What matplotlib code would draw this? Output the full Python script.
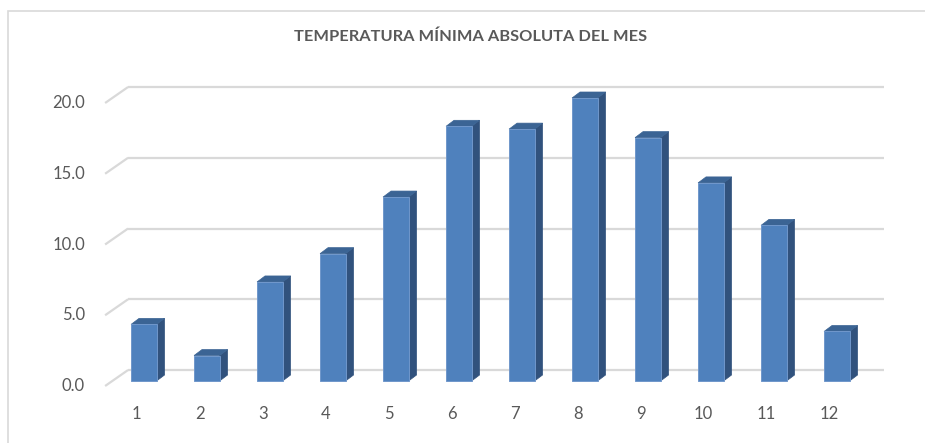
import matplotlib
matplotlib.use('Agg')
import matplotlib.pyplot as plt
from matplotlib.patches import Polygon, Rectangle

# ---- data ----
months = ['1', '2', '3', '4', '5', '6', '7', '8', '9', '10', '11', '12']
values = [4.0, 1.8, 7.0, 9.0, 13.0, 18.0, 17.8, 20.0, 17.2, 14.0, 11.0, 3.5]
yticks = [0, 5, 10, 15, 20]
ytick_labels = ['0.0', '5.0', '10.0', '15.0', '20.0']
title = 'TEMPERATURA MÍNIMA ABSOLUTA DEL MES'

# ---- layout ----
W, H, DPI = 925, 443, 100
fig = plt.figure(figsize=(W / DPI, H / DPI), dpi=DPI)

x1px, xs = 143.8, 63.0      # pixel of category 1, pixels per category
y0px, ys = 381.0, 14.15     # pixel of value 0 (bar plane), pixels per unit
xlim = (0.1, 13.2)
ylim = (-1.2, 21.5)
left = x1px + (xlim[0] - 1) * xs
right = x1px + (xlim[1] - 1) * xs
top = y0px - ylim[1] * ys
bottom = y0px - ylim[0] * ys
ax = fig.add_axes([left / W, 1 - bottom / H, (right - left) / W, (bottom - top) / H])
ax.set_xlim(*xlim)
ax.set_ylim(*ylim)
ax.axis('off')

def dx(px):
    return px / xs

def dy(px):
    return px / ys

# depth offsets (screen px, x right / y up) relative to bar front plane
front_off = (-7.2, -5.0)
back_off = (15.8, 11.0)
bar_depth = (8.0, 6.0)

grid_c = '#d9d9d9'
text_c = '#595959'
wall_l, wall_r = 0.5, 12.5

for t, lab in zip(yticks, ytick_labels):
    # back wall line
    ax.plot([wall_l + dx(back_off[0]), wall_r + dx(back_off[0])],
            [t + dy(back_off[1])] * 2, color=grid_c, lw=1.6, zorder=1,
            solid_capstyle='butt')
    # side wall diagonal
    ax.plot([wall_l + dx(front_off[0]), wall_l + dx(back_off[0])],
            [t + dy(front_off[1]), t + dy(back_off[1])],
            color=grid_c, lw=1.6, zorder=1, solid_capstyle='butt')
    ax.annotate(lab, (wall_l + dx(front_off[0]), t + dy(front_off[1])),
                xytext=(-20, 0), textcoords='offset pixels', ha='right',
                va='center', fontsize=12, color=text_c, family='Lato')

bw = 25.5 / xs
front_c = '#4f81bd'
side_c = '#31527d'
top_c = '#3b6494'
for i, (m, v) in enumerate(zip(months, values)):
    x = i + 1
    xl, xr = x - bw / 2, x + bw / 2
    bx, by = dx(bar_depth[0]), dy(bar_depth[1])
    ax.add_patch(Polygon([(xr, 0), (xr + bx, by), (xr + bx, v + by), (xr, v)],
                         closed=True, facecolor=side_c, edgecolor=side_c,
                         lw=0.5, zorder=3))
    ax.add_patch(Polygon([(xl, v), (xr, v), (xr + bx, v + by), (xl + bx, v + by)],
                         closed=True, facecolor=top_c, edgecolor=top_c,
                         lw=0.5, zorder=3))
    ax.add_patch(Rectangle((xl, 0), bw, v, facecolor=front_c,
                           edgecolor='#7097cb', lw=0.7, zorder=4))
    ax.annotate(m, (x + dx(front_off[0]), dy(front_off[1])),
                xytext=(0, -28), textcoords='offset pixels', ha='center',
                va='center', fontsize=12, color=text_c, family='Lato')

fig.text(470.5 / W, 1 - 37 / H, title, ha='center', va='center',
         fontsize=11.8, fontweight='bold', color=text_c, family='Lato')

# chart frame (only left and top edges fall inside the image)
fig.patches.append(Rectangle((8 / W, -0.2), 1.5, 1.2 - 11 / H,
                             transform=fig.transFigure,
                             facecolor='none', edgecolor=grid_c, lw=1.2))

fig.savefig('out.png', dpi=DPI)
